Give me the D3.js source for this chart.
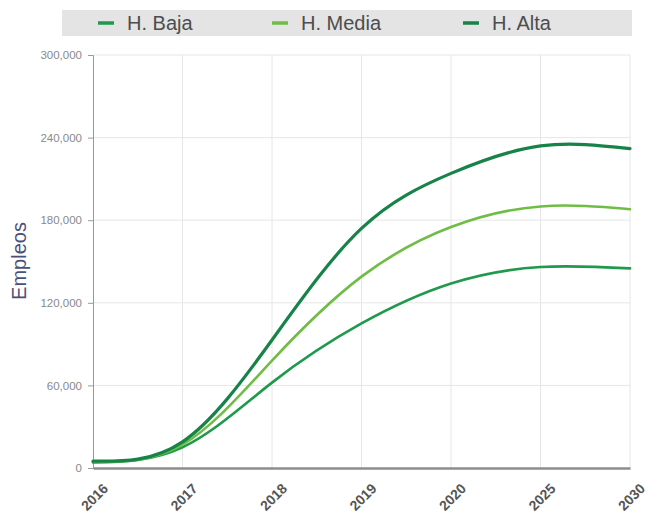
<!DOCTYPE html>
<html lang="es">
<head>
  <meta charset="UTF-8">
  <title>Empleos por hipótesis</title>
  <script src="https://d3js.org/d3.v7.min.js"></script>
  <style>
    body {
      margin: 0;
      padding: 0;
      background-color: #fff;
      font-family: 'Liberation Sans', Arial, sans-serif;
    }
    .grid line { stroke: #e6e6e6; }
    .y-axis text { fill: #8a8a8a; font-size: 11.5px; }
    .x-axis text { fill: #555; font-size: 14px; font-weight: bold; }
  </style>
</head>
<body>
  <div id="chart"></div>

  <script>
    const years = ["2016", "2017", "2018", "2019", "2020", "2025", "2030"];
    const bajaValues = [4000, 15000, 62000, 105000, 134000, 146000, 145000];
    const mediaValues = [4500, 17000, 78000, 139000, 175000, 190000, 188000];
    const altaValues = [5000, 19000, 93000, 174000, 214000, 234000, 232000];
    const yTicks = [0, 60000, 120000, 180000, 240000, 300000];

    const series = [
      { name: "H. Baja", values: bajaValues, color: "#1f9a4c", width: 2.6 },
      { name: "H. Media", values: mediaValues, color: "#6fbd45", width: 2.6 },
      { name: "H. Alta", values: altaValues, color: "#178349", width: 3.2 }
    ];

    const W = 648, H = 513;
    const margin = { top: 55, right: 18, bottom: 45, left: 93 };
    const width = W - margin.left - margin.right;
    const height = H - margin.top - margin.bottom;

    const root = d3.select("#chart")
      .append("svg")
      .attr("width", W)
      .attr("height", H);

    // legend band
    root.append("rect")
      .attr("x", 62).attr("y", 10)
      .attr("width", 570).attr("height", 26)
      .attr("fill", "#e4e4e4");

    const legendX = [98, 272, 463];
    series.forEach((s, i) => {
      const g = root.append("g").attr("transform", `translate(${legendX[i]},23)`);
      g.append("line")
        .attr("x1", 0).attr("x2", 16)
        .attr("stroke", s.color).attr("stroke-width", 3.5);
      g.append("text")
        .attr("x", 29).attr("dy", "0.36em")
        .attr("fill", "#4d4d4d")
        .style("font-size", "20px")
        .text(s.name);
    });

    const svg = root.append("g")
      .attr("transform", `translate(${margin.left},${margin.top})`);

    const x = d3.scalePoint().domain(years).range([0, width]);
    const y = d3.scaleLinear().domain([0, 300000]).range([height, 0]);

    // gridlines
    svg.append("g").attr("class", "grid")
      .selectAll("line.h").data(yTicks.slice(1)).enter()
      .append("line")
      .attr("x1", 0).attr("x2", width)
      .attr("y1", d => y(d)).attr("y2", d => y(d));
    svg.append("g").attr("class", "grid")
      .selectAll("line.v").data(years.slice(1)).enter()
      .append("line")
      .attr("x1", d => x(d)).attr("x2", d => x(d))
      .attr("y1", 0).attr("y2", height)
      .attr("stroke", "#efefef");

    // y axis
    const yAxis = svg.append("g")
      .attr("class", "y-axis")
      .call(d3.axisLeft(y).tickValues(yTicks).tickSize(5).tickPadding(6)
        .tickFormat(d3.format(",")));
    yAxis.select(".domain").attr("stroke", "#999");
    yAxis.selectAll(".tick line").attr("stroke", "#999");

    // x axis
    const xAxis = svg.append("g")
      .attr("class", "x-axis")
      .attr("transform", `translate(0,${height})`)
      .call(d3.axisBottom(x).tickSize(0).tickPadding(0));
    xAxis.select(".domain").attr("stroke", "#8c8c8c").attr("stroke-width", 2.5);
    xAxis.selectAll("text")
      .attr("text-anchor", "middle")
      .attr("dy", "0.35em")
      .attr("y", 0)
      .attr("transform", "translate(1,29) rotate(-45)");

    // y label
    root.append("text")
      .attr("transform", "translate(26,261) rotate(-90)")
      .attr("text-anchor", "middle")
      .attr("fill", "#4b5078")
      .style("font-size", "20px")
      .text("Empleos");

    // lines
    const line = d3.line()
      .x((d, i) => x(years[i]))
      .y(d => y(d))
      .curve(d3.curveNatural);

    svg.selectAll(".series")
      .data(series)
      .enter()
      .append("path")
      .attr("class", "series")
      .attr("fill", "none")
      .attr("stroke", d => d.color)
      .attr("stroke-width", d => d.width)
      .attr("stroke-linecap", "round")
      .attr("d", d => line(d.values));
  </script>
</body>
</html>
